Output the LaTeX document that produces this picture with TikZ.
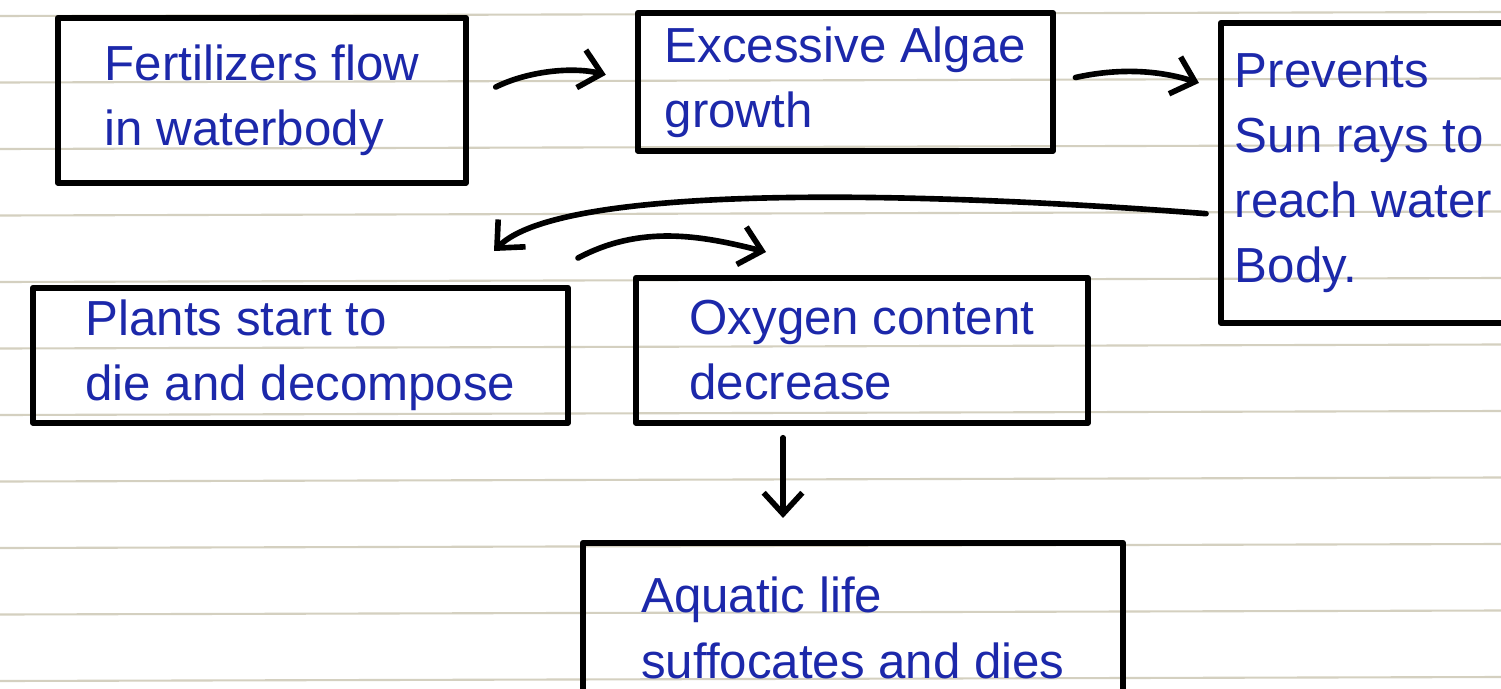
\documentclass[tikz,border=0pt]{standalone}
\usepackage{fontspec}
\setmainfont{Liberation Sans}
\usetikzlibrary{arrows.meta}
\definecolor{ink}{RGB}{28,40,170}
\definecolor{rule}{RGB}{212,208,192}
\begin{document}
\begin{tikzpicture}[x=0.01cm, y=-0.01cm, line cap=round, line join=round,
	font=\fontsize{14}{18.5}\selectfont,
	>={Straight Barb[length=6pt, width=11pt, line width=1.6pt]},
	stepbox/.style={draw, line width=1.6pt, text=ink, align=left, anchor=north west, inner sep=0pt},
	flow/.style={->, line width=1.6pt}]

	% paper
	\useasboundingbox (0,0) rectangle (1501,688);
	\clip (0,0) rectangle (1501,688);
	\fill[white] (0,0) rectangle (1501,688);
	\foreach \k in {0,...,10} {
		\draw[rule, line width=0.6pt] (0,{16+66.5*\k}) -- (1501,{12+66.5*\k});
	}

	% --- boxes ---
	\node[stepbox, minimum width=4.08cm, minimum height=1.65cm] (fert) at (55,15)
		{Fertilizers flow\\in waterbody};
	\node[stepbox, minimum width=4.15cm, minimum height=1.38cm] (algae) at (635,10)
		{Excessive Algae\\growth};
	\node[stepbox, minimum width=2.85cm, minimum height=3.0cm] (sun) at (1218,20)
		{Prevents\\Sun rays to\\reach water\\Body.};
	\node[stepbox, minimum width=5.35cm, minimum height=1.35cm] (plants) at (30,285)
		{Plants start to\\die and decompose};
	\node[stepbox, minimum width=4.52cm, minimum height=1.45cm] (oxy) at (633,275)
		{Oxygen content\\decrease};
	\node[stepbox, minimum width=5.4cm, minimum height=1.7cm] (aqua) at (580,540)
		{Aquatic life\\suffocates and dies};

	% --- connectors ---
	\draw[flow, shorten <=0.3cm, shorten >=0.3cm] (fert.east) to[bend left=20] (algae.west);
	\draw[flow, shorten <=0.2cm, shorten >=0.2cm] (algae.east) to[bend left=15] (sun.150);

	\coordinate (turn) at (494,251);
	\draw[flow, shorten <=0.12cm] (sun.196) .. controls (900,190) and (560,185) .. (turn);

	\coordinate (p1) at (578,258);
	\coordinate (p2) at (766,252);
	\draw[flow] (p1) .. controls (640,225) and (700,235) .. (p2);

	\coordinate (dn) at (783,0);
	\draw[flow, shorten <=0.12cm, shorten >=0.22cm] (oxy.south -| dn) -- (aqua.north -| dn);

\end{tikzpicture}
\end{document}
